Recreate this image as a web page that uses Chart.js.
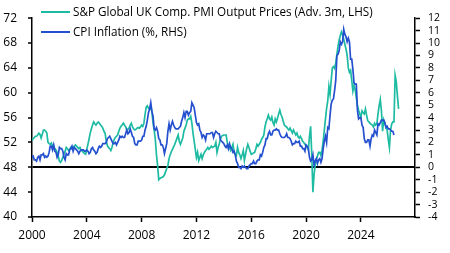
<!DOCTYPE html>
<html>
<head>
<meta charset="utf-8">
<script src="https://cdn.jsdelivr.net/npm/chart.js@4"></script>
<style>
  html, body { margin: 0; padding: 0; background: #fff; }
  #wrap { width: 450px; height: 253px; }
</style>
</head>
<body>
<div id="wrap"><canvas id="pmiChart" width="450" height="253"></canvas></div>
<script>
// Monthly series, first value = Jan 2000
var startYear = 2000;

// S&P Global UK Composite PMI Output Prices, advanced 3 months (LHS)
var pmiValues = [
  52.3, 52.6, 52.8, 53.0, 53.0, 53.2, 53.5, 53.3, 52.7, 53.3, 54.0, 54.0, // 2000
  53.8, 53.5, 52.0, 51.8, 51.7, 51.9, 51.5, 51.4, 51.0, 50.8, 50.4, 49.8, // 2001
  49.0, 48.8, 49.1, 49.6, 50.1, 50.6, 51.2, 51.0, 50.7, 50.9, 51.2, 51.0, // 2002
  51.2, 51.4, 51.6, 51.4, 51.2, 51.0, 51.2, 50.8, 50.6, 50.4, 50.2, 50.1, // 2003
  50.9, 51.7, 52.6, 53.5, 54.2, 54.8, 55.3, 55.0, 54.8, 55.1, 55.3, 55.1, // 2004
  54.8, 54.6, 54.3, 53.8, 53.5, 52.2, 51.5, 51.2, 51.0, 50.7, 51.2, 51.9, // 2005
  52.5, 52.8, 53.0, 53.2, 53.8, 54.3, 54.6, 54.8, 55.1, 54.8, 54.5, 54.0, // 2006
  54.1, 54.3, 54.8, 55.1, 54.5, 54.2, 54.0, 54.1, 54.3, 54.4, 54.3, 54.5, // 2007
  54.8, 54.6, 55.1, 56.5, 57.7, 57.9, 57.5, 57.3, 57.7, 57.0, 55.1, 54.0, // 2008
  52.5, 50.0, 48.3, 46.0, 46.2, 46.3, 46.4, 46.5, 46.8, 47.3, 47.8, 48.3, // 2009
  49.4, 50.0, 50.5, 50.9, 51.3, 51.7, 52.2, 52.7, 53.2, 52.2, 51.7, 52.2, // 2010
  52.7, 53.8, 54.3, 54.8, 55.6, 55.8, 55.8, 56.2, 55.1, 53.5, 52.2, 50.9, // 2011
  49.6, 50.4, 49.1, 49.6, 50.1, 49.4, 50.0, 50.4, 50.7, 50.9, 51.2, 50.9, // 2012
  51.1, 51.4, 51.2, 51.3, 51.4, 52.0, 50.4, 51.2, 51.8, 52.5, 53.0, 53.1, // 2013
  53.2, 53.2, 53.2, 52.0, 51.5, 51.2, 50.7, 51.2, 51.7, 50.4, 50.1, 49.9, // 2014
  51.2, 50.4, 50.0, 49.4, 50.0, 50.7, 49.1, 50.1, 51.0, 51.7, 51.2, 50.6, // 2015
  50.1, 50.2, 50.3, 50.4, 51.0, 51.7, 51.4, 51.7, 52.0, 52.5, 52.8, 53.2, // 2016
  54.5, 55.3, 55.8, 56.4, 55.8, 55.6, 56.1, 55.2, 54.8, 55.8, 55.3, 55.9, // 2017
  56.6, 57.2, 56.5, 56.1, 55.4, 54.8, 54.6, 54.5, 54.2, 54.0, 54.3, 53.9, // 2018
  53.5, 54.0, 53.6, 53.2, 53.5, 52.9, 52.7, 53.0, 52.6, 52.2, 52.0, 51.7, // 2019
  51.5, 51.2, 50.8, 53.0, 54.6, 50.0, 44.0, 46.8, 48.3, 49.2, 49.8, 50.4, // 2020
  50.4, 49.9, 50.8, 52.2, 54.0, 55.8, 57.5, 58.7, 61.0, 59.7, 62.0, 64.0, // 2021
  64.2, 63.9, 64.8, 66.2, 67.5, 68.5, 69.2, 69.8, 69.3, 68.6, 67.8, 67.0, // 2022
  66.0, 64.0, 63.3, 63.6, 62.0, 60.3, 61.2, 60.5, 59.2, 57.9, 57.2, 56.6, // 2023
  56.1, 57.1, 56.8, 56.6, 57.4, 56.4, 55.5, 55.3, 55.1, 54.9, 54.8, 54.5, // 2024
  55.1, 54.8, 55.0, 56.6, 57.9, 58.9, 57.1, 53.8, 55.6, 55.0, 54.5, 54.0, // 2025
  52.5, 51.2, 54.0, 55.0, 55.3, 55.3, 62.8, 61.8, 59.5, 57.4              // 2026
];

// UK CPI inflation, % y/y (RHS)
var cpiValues = [
  0.8, 0.9, 0.6, 0.6, 0.5, 0.8, 0.9, 0.6, 1.0, 1.0, 1.1, 0.8,   // 2000
  0.9, 0.8, 0.9, 1.2, 1.7, 1.7, 1.4, 1.8, 1.3, 1.2, 0.8, 1.0,   // 2001
  1.6, 1.5, 1.5, 1.3, 0.8, 0.6, 1.1, 1.0, 1.0, 1.4, 1.5, 1.7,   // 2002
  1.3, 1.6, 1.5, 1.4, 1.3, 1.1, 1.3, 1.4, 1.4, 1.4, 1.3, 1.3,   // 2003
  1.4, 1.3, 1.1, 1.2, 1.5, 1.6, 1.4, 1.3, 1.1, 1.2, 1.5, 1.7,   // 2004
  1.6, 1.7, 1.9, 1.9, 1.9, 2.0, 2.3, 2.4, 2.5, 2.3, 2.1, 1.9,   // 2005
  1.9, 2.0, 1.8, 2.0, 2.2, 2.5, 2.4, 2.5, 2.4, 2.4, 2.7, 3.0,   // 2006
  2.7, 2.8, 3.1, 2.8, 2.5, 2.4, 1.9, 1.8, 1.8, 2.1, 2.1, 2.1,   // 2007
  2.2, 2.5, 2.5, 3.0, 3.3, 3.8, 4.4, 4.7, 5.2, 4.5, 4.1, 3.1,   // 2008
  3.0, 3.2, 2.9, 2.3, 2.2, 1.8, 1.8, 1.6, 1.1, 1.5, 1.9, 2.9,   // 2009
  3.5, 3.0, 3.4, 3.7, 3.4, 3.2, 3.1, 3.1, 3.1, 3.2, 3.3, 3.7,   // 2010
  4.0, 4.4, 4.0, 4.5, 4.5, 4.2, 4.4, 4.5, 5.2, 5.0, 4.8, 4.2,   // 2011
  3.6, 3.4, 3.5, 3.0, 2.8, 2.4, 2.6, 2.5, 2.2, 2.7, 2.7, 2.7,   // 2012
  2.7, 2.8, 2.8, 2.4, 2.7, 2.9, 2.8, 2.7, 2.7, 2.2, 2.1, 2.0,   // 2013
  1.9, 1.7, 1.6, 1.8, 1.5, 1.9, 1.6, 1.5, 1.2, 1.3, 1.0, 0.5,   // 2014
  0.3, 0.0, 0.0, -0.1, 0.1, 0.0, 0.1, 0.0, -0.1, -0.1, 0.1, 0.2, // 2015
  0.3, 0.3, 0.5, 0.3, 0.3, 0.5, 0.6, 0.6, 1.0, 0.9, 1.2, 1.6,   // 2016
  1.8, 2.3, 2.3, 2.7, 2.9, 2.6, 2.6, 2.9, 3.0, 3.0, 3.1, 3.0,   // 2017
  3.0, 2.7, 2.5, 2.4, 2.4, 2.4, 2.5, 2.7, 2.4, 2.4, 2.3, 2.1,   // 2018
  1.8, 1.9, 1.9, 2.1, 2.0, 2.0, 2.1, 1.7, 1.7, 1.5, 1.5, 1.3,   // 2019
  1.8, 1.7, 1.5, 0.8, 0.5, 0.6, 1.0, 0.2, 0.5, 0.7, 0.3, 0.6,   // 2020
  0.7, 0.4, 0.7, 1.5, 2.1, 2.5, 2.0, 3.2, 3.1, 4.2, 5.1, 5.4,   // 2021
  5.5, 6.2, 7.0, 9.0, 9.1, 9.4, 10.1, 9.9, 10.1, 11.1, 10.7, 10.5, // 2022
  10.1, 10.4, 10.1, 8.7, 8.7, 7.9, 6.8, 6.7, 6.7, 4.6, 3.9, 4.0, // 2023
  4.0, 3.4, 3.2, 2.3, 2.0, 2.0, 2.2, 2.2, 1.7, 2.3, 2.6, 2.5,   // 2024
  3.0, 2.8, 2.6, 3.5, 3.4, 3.6, 3.8, 3.8, 3.8, 3.6, 3.2, 3.3,   // 2025
  3.1, 3.1, 3.0, 2.9, 2.9, 2.6                                  // 2026
];

// Axis ticks
var xTickYears = [2000, 2004, 2008, 2012, 2016, 2020, 2024];
var leftTicks = [40, 44, 48, 52, 56, 60, 64, 68, 72];
var rightTicks = [-4, -3, -2, -1, 0, 1, 2, 3, 4, 5, 6, 7, 8, 9, 10, 11, 12];

var seriesLabels = ['S&P Global UK Comp. PMI Output Prices (Adv. 3m, LHS)', 'CPI Inflation (%, RHS)'];

function toPoints(values) {
    return values.map(function (v, i) { return { x: startYear + i / 12, y: v }; });
}

var fontSpec = { family: '"Open Sans", sans-serif', size: 12 };

// Legend drawn inside the plot area, top-left
var lineLegend = {
    id: 'lineLegend',
    afterDraw: function (chart) {
        var ctx = chart.ctx;
        ctx.save();
        ctx.font = '11.7px "Open Sans", sans-serif';
        ctx.textBaseline = 'middle';
        chart.data.datasets.forEach(function (ds, i) {
            var y = 12 + i * 20;
            ctx.strokeStyle = ds.borderColor;
            ctx.lineWidth = 2;
            ctx.beginPath();
            ctx.moveTo(41, y);
            ctx.lineTo(70, y);
            ctx.stroke();
            ctx.fillStyle = '#000';
            ctx.fillText(ds.label, 73, y + 1);
        });
        ctx.restore();
    }
};

var ctx = document.getElementById('pmiChart').getContext('2d');
var pmiChart = new Chart(ctx, {
    type: 'line',
    data: {
        datasets: [{
            label: seriesLabels[0],
            data: toPoints(pmiValues),
            yAxisID: 'yL',
            borderColor: '#1DBBA2',
            borderWidth: 1.7,
            pointRadius: 0,
            order: 1
        }, {
            label: seriesLabels[1],
            data: toPoints(cpiValues),
            yAxisID: 'yR',
            borderColor: '#2450CF',
            borderWidth: 1.7,
            pointRadius: 0,
            order: 0
        }]
    },
    options: {
        responsive: false,
        animation: false,
        devicePixelRatio: 1,
        layout: { padding: { top: 11, left: 0, right: 0, bottom: 0 } },
        plugins: {
            legend: { display: false },
            tooltip: { enabled: false }
        },
        scales: {
            x: {
                type: 'linear',
                min: 2000,
                max: 2027.95,
                afterBuildTicks: function (s) { s.ticks = xTickYears.map(function (v) { return { value: v }; }); },
                afterFit: function (s) { s.height = 36; },
                ticks: {
                    autoSkip: false, maxRotation: 0, padding: 6,
                    color: '#000', font: fontSpec,
                    callback: function (v) { return String(v); }
                },
                grid: { drawOnChartArea: false, tickLength: 5, tickColor: '#000', tickWidth: 1.5 },
                border: { color: '#000', width: 1.5 }
            },
            yL: {
                position: 'left',
                min: 40,
                max: 72,
                afterBuildTicks: function (s) { s.ticks = leftTicks.map(function (v) { return { value: v }; }); },
                afterFit: function (s) { s.width = 32; },
                ticks: { autoSkip: false, padding: 11, color: '#000', font: fontSpec },
                grid: {
                    color: function (c) { return c.tick && c.tick.value === 48 ? '#000' : 'rgba(0,0,0,0)'; },
                    lineWidth: 2,
                    tickLength: 4, tickColor: '#000', tickWidth: 1.5
                },
                border: { color: '#000', width: 1.5 }
            },
            yR: {
                position: 'right',
                min: -4,
                max: 12,
                afterBuildTicks: function (s) { s.ticks = rightTicks.map(function (v) { return { value: v }; }); },
                afterFit: function (s) { s.width = 35; },
                ticks: {
                    autoSkip: false, padding: 8, color: '#000',
                    font: { family: '"Open Sans", sans-serif', size: 10.5 }
                },
                grid: { drawOnChartArea: false, tickLength: 5, tickColor: '#000', tickWidth: 1.5 },
                border: { color: '#000', width: 1.5 }
            }
        }
    },
    plugins: [lineLegend]
});
</script>
</body>
</html>
